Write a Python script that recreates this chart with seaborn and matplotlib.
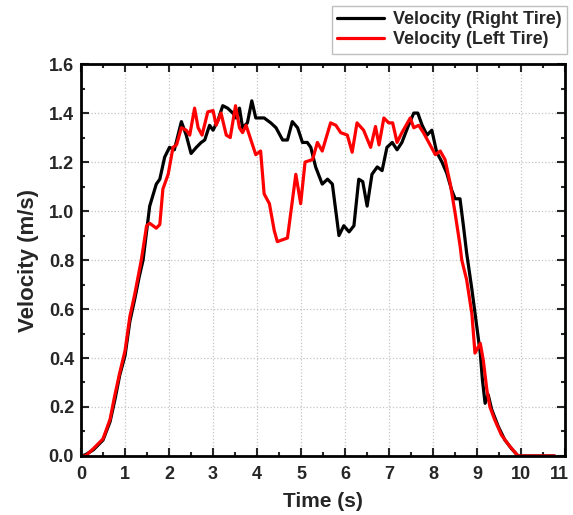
import numpy as np
import pandas as pd
import seaborn as sns
import matplotlib.pyplot as plt
import matplotlib.transforms as mtransforms
from matplotlib.ticker import MultipleLocator, FormatStrFormatter

# right tire (black)
t_right = [0.0, 0.1, 0.28, 0.5, 0.66, 0.77, 0.88, 1.0, 1.11, 1.22, 1.32, 1.41, 1.56, 1.71, 1.79,
           1.90, 2.01, 2.12, 2.28, 2.39, 2.50, 2.62, 2.73, 2.81, 2.92, 3.0, 3.11, 3.22, 3.33,
           3.45, 3.52, 3.60, 3.67, 3.78, 3.88, 3.97, 4.16, 4.31, 4.43, 4.58, 4.69, 4.80, 4.92,
           5.03, 5.14, 5.22, 5.33, 5.48, 5.60, 5.71, 5.86, 5.97, 6.09, 6.20, 6.31, 6.40, 6.50,
           6.61, 6.73, 6.84, 6.95, 7.07, 7.18, 7.29, 7.44, 7.56, 7.65, 7.75, 7.86, 7.97, 8.08,
           8.20, 8.31, 8.42, 8.50, 8.61, 8.69, 8.76, 8.88, 8.99, 9.07, 9.12, 9.18, 9.25, 9.33,
           9.48, 9.63, 9.78, 9.93, 10.3, 10.76]
v_right = [0.0, 0.005, 0.025, 0.065, 0.14, 0.23, 0.33, 0.41, 0.55, 0.64, 0.73, 0.80, 1.02, 1.11, 1.13,
           1.22, 1.26, 1.25, 1.365, 1.31, 1.235, 1.26, 1.28, 1.29, 1.35, 1.33, 1.37, 1.43, 1.42,
           1.40, 1.38, 1.42, 1.34, 1.36, 1.45, 1.38, 1.38, 1.36, 1.34, 1.29, 1.29, 1.365, 1.34,
           1.28, 1.28, 1.26, 1.18, 1.11, 1.13, 1.11, 0.90, 0.94, 0.915, 0.94, 1.13, 1.12, 1.02,
           1.15, 1.18, 1.165, 1.26, 1.28, 1.25, 1.28, 1.35, 1.40, 1.40, 1.35, 1.31, 1.33, 1.24,
           1.20, 1.154, 1.086, 1.05, 1.05, 0.936, 0.83, 0.68, 0.53, 0.42, 0.31, 0.215, 0.25, 0.19,
           0.12, 0.065, 0.03, 0.0, 0.0, 0.0]

# left tire (red)
t_left = [0.0, 0.1, 0.28, 0.5, 0.66, 0.77, 0.88, 1.0, 1.11, 1.22, 1.37, 1.49, 1.56, 1.71, 1.79,
          1.86, 1.98, 2.09, 2.17, 2.28, 2.39, 2.47, 2.58, 2.66, 2.75, 2.88, 3.0, 3.07, 3.18,
          3.30, 3.39, 3.51, 3.60, 3.67, 3.75, 3.86, 3.97, 4.08, 4.16, 4.28, 4.39, 4.46, 4.69,
          4.88, 4.99, 5.09, 5.26, 5.37, 5.48, 5.67, 5.79, 5.90, 6.05, 6.16, 6.27, 6.42, 6.58,
          6.69, 6.77, 6.88, 6.99, 7.08, 7.18, 7.29, 7.48, 7.56, 7.67, 7.78, 7.90, 8.05, 8.16,
          8.27, 8.39, 8.50, 8.61, 8.65, 8.76, 8.88, 8.95, 9.07, 9.14, 9.22, 9.29, 9.40, 9.55,
          9.74, 9.93, 10.3, 10.76]
v_left = [0.0, 0.0, 0.03, 0.07, 0.15, 0.25, 0.34, 0.43, 0.57, 0.66, 0.80, 0.94, 0.95, 0.93, 0.945,
          1.09, 1.15, 1.26, 1.27, 1.34, 1.33, 1.31, 1.42, 1.34, 1.31, 1.405, 1.41, 1.35, 1.40,
          1.31, 1.30, 1.43, 1.34, 1.32, 1.35, 1.29, 1.23, 1.245, 1.07, 1.03, 0.92, 0.875, 0.89,
          1.15, 1.03, 1.20, 1.21, 1.28, 1.245, 1.36, 1.35, 1.32, 1.31, 1.24, 1.36, 1.33, 1.26,
          1.345, 1.27, 1.38, 1.36, 1.36, 1.28, 1.32, 1.38, 1.34, 1.35, 1.32, 1.28, 1.23, 1.245,
          1.21, 1.11, 0.99, 0.86, 0.80, 0.72, 0.58, 0.42, 0.46, 0.39, 0.27, 0.20, 0.147, 0.086,
          0.04, 0.0, 0.0, 0.0]

x_ticks = list(range(0, 12))
y_ticks = [0.0, 0.2, 0.4, 0.6, 0.8, 1.0, 1.2, 1.4, 1.6]

sns.set_style("ticks")
plt.rcParams['font.family'] = ['Liberation Sans', 'DejaVu Sans']
plt.rcParams['font.weight'] = 'bold'

fig = plt.figure(figsize=(5.73, 5.15), dpi=100)
ax = fig.add_axes([0.1414, 0.1146, 0.845, 0.761])

sns.lineplot(x=t_right, y=v_right, color='black', lw=2.3, ax=ax, label='Velocity (Right Tire)')
sns.lineplot(x=t_left, y=v_left, color='#ff0000', lw=2.3, ax=ax, label='Velocity (Left Tire)')

ax.set_xlim(0, 11)
ax.set_ylim(0, 1.6)
ax.set_xticks(x_ticks)
ax.set_yticks(y_ticks)
ax.xaxis.set_minor_locator(MultipleLocator(0.5))
ax.yaxis.set_minor_locator(MultipleLocator(0.1))
ax.yaxis.set_major_formatter(FormatStrFormatter('%.1f'))
ax.tick_params(which='both', direction='in', top=True, right=True, width=1.5, labelsize=13)
ax.tick_params(which='major', length=6)
ax.tick_params(which='minor', length=3)
ax.tick_params(axis='x', which='major', pad=7)
ax.tick_params(axis='y', which='major', pad=5)
ax.grid(True, which='major', linestyle=':', color='#c4c4c4', lw=0.9)
for s in ax.spines.values():
    s.set_linewidth(2)
    s.set_color('black')

ax.set_xlabel('Time (s)', fontsize=15, fontweight='bold', labelpad=7)
ax.set_ylabel('Velocity (m/s)', fontsize=16, fontweight='bold', labelpad=7)

leg = ax.legend(loc='upper right', bbox_to_anchor=(567 / 573, 1 - 6 / 515),
                bbox_transform=fig.transFigure, fontsize=13, frameon=True, fancybox=False,
                handlelength=2.6, labelspacing=0.15, borderpad=0.3, handletextpad=0.5,
                borderaxespad=0)
leg.get_frame().set_edgecolor('#b0b0b0')
leg.get_frame().set_linewidth(1.0)
for text in leg.get_texts():
    text.set_fontweight('bold')

# keep the last x label inside the picture
last = ax.get_xticklabels()[-1]
last.set_transform(last.get_transform() + mtransforms.ScaledTranslation(-6 / 100, 0, fig.dpi_scale_trans))

fig.savefig('out.png', dpi=100)
